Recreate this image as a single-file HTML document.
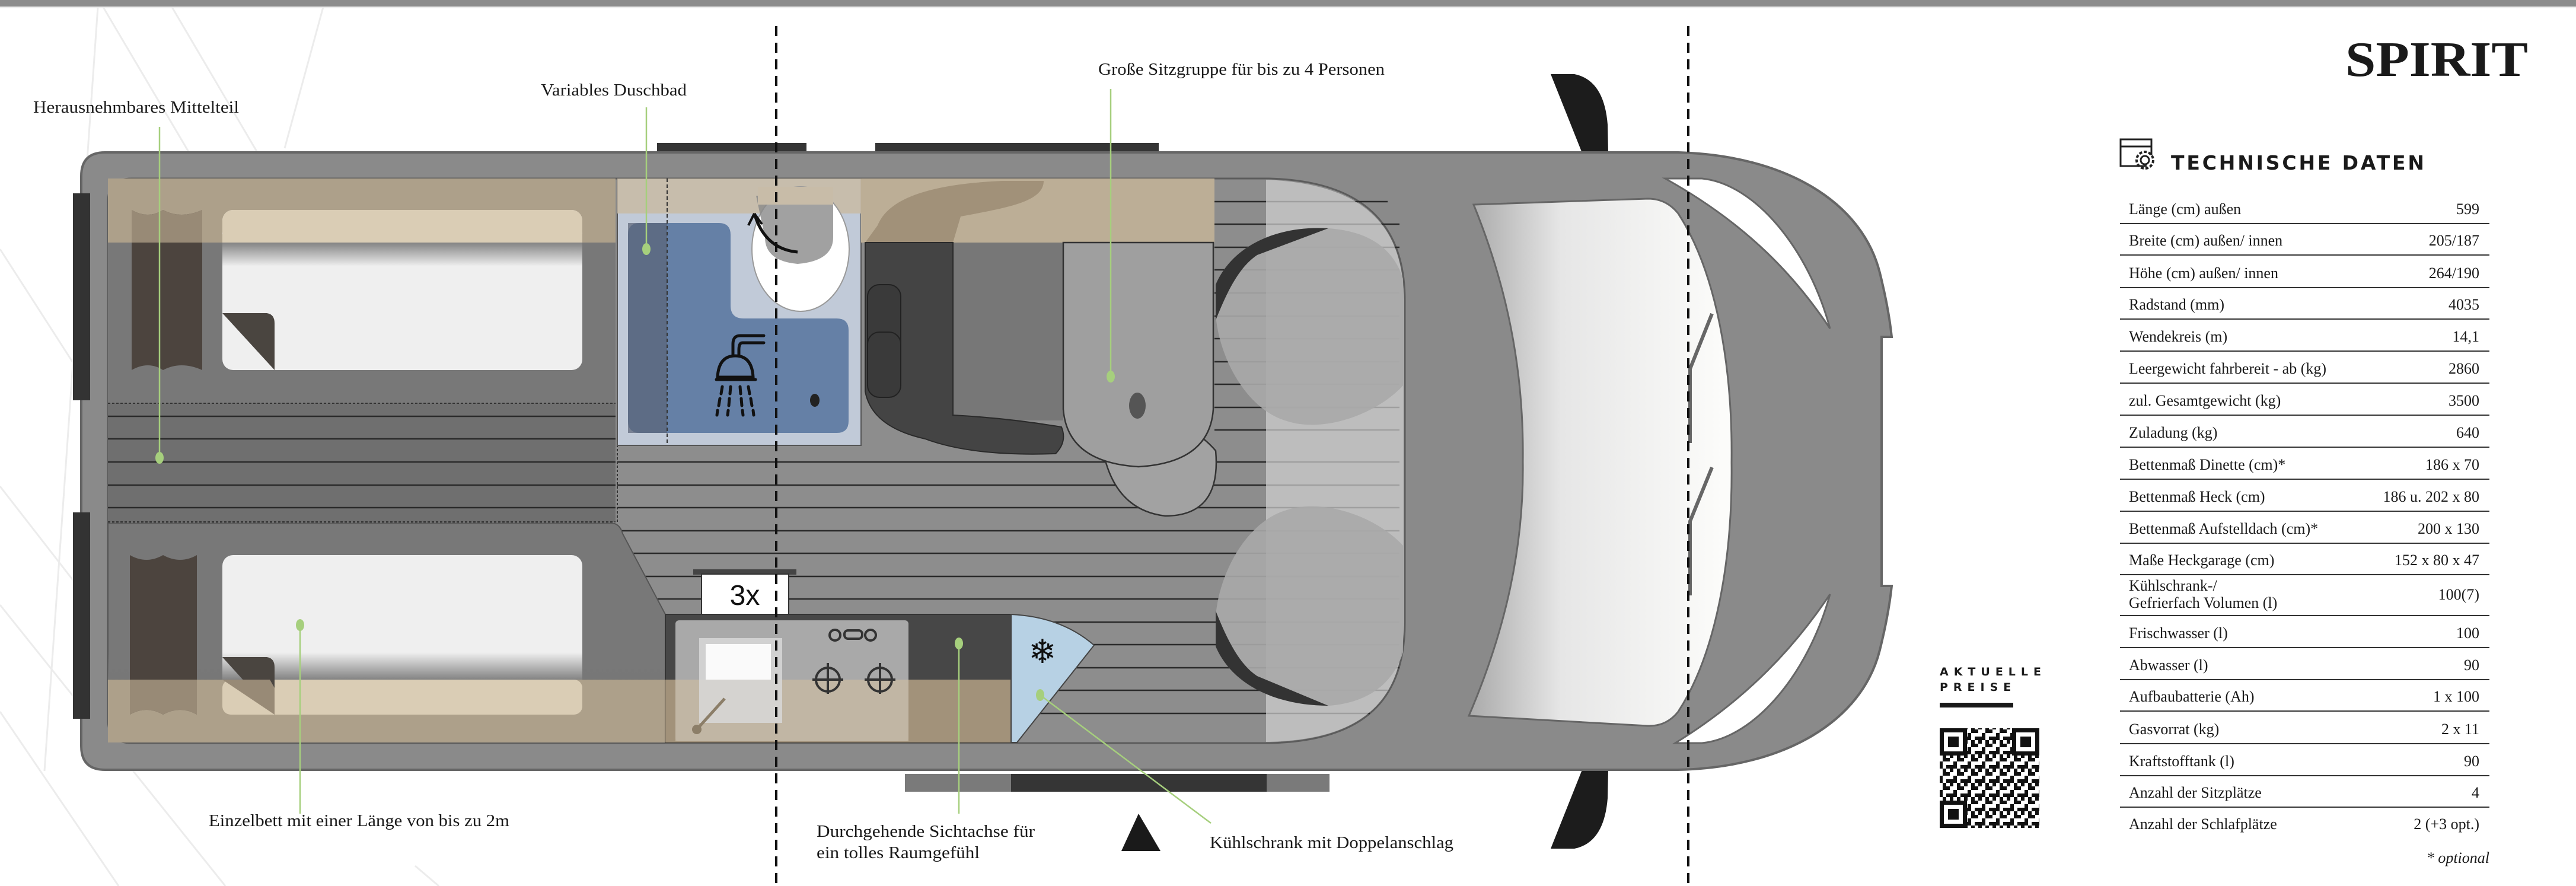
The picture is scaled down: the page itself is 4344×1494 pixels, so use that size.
<!DOCTYPE html>
<html><head><meta charset="utf-8"><style>
html,body{margin:0;padding:0;background:#fff}
svg{display:block}
.lb{font-family:"Liberation Serif",serif;font-size:28px;fill:#1a1a1a}
.tb{font-family:"Liberation Serif",serif;font-size:26px;fill:#1a1a1a}
.tv{font-family:"Liberation Serif",serif;font-size:26px;fill:#1a1a1a;text-anchor:end}
</style></head><body>
<svg width="4344" height="1494" viewBox="0 0 4344 1494" xmlns="http://www.w3.org/2000/svg">
<defs>
<linearGradient id="ws" x1="0" x2="1" y1="0" y2="0"><stop offset="0" stop-color="#a9a9a9"/><stop offset="0.35" stop-color="#e6e6e6"/><stop offset="1" stop-color="#fdfdfb"/></linearGradient>
<linearGradient id="sh" x1="0" x2="0" y1="0" y2="1"><stop offset="0" stop-color="#777" stop-opacity="0.9"/><stop offset="1" stop-color="#777" stop-opacity="0"/></linearGradient>
<linearGradient id="sh2" x1="0" x2="0" y1="1" y2="0"><stop offset="0" stop-color="#777" stop-opacity="0.9"/><stop offset="1" stop-color="#777" stop-opacity="0"/></linearGradient>
<pattern id="qr" width="24" height="24" patternUnits="userSpaceOnUse">
<rect x="0" y="0" width="6" height="6" fill="#111"/><rect x="12" y="0" width="6" height="12" fill="#111"/><rect x="6" y="12" width="6" height="6" fill="#111"/><rect x="18" y="6" width="6" height="6" fill="#111"/><rect x="0" y="18" width="12" height="6" fill="#111"/><rect x="18" y="18" width="6" height="6" fill="#111"/></pattern>
</defs>
<rect width="4344" height="1494" fill="#fff"/>
<rect x="0" y="0" width="4344" height="11" fill="#8c8c8c"/>
<rect x="0" y="11" width="4344" height="3" fill="#eee"/>

<g stroke="#ececec" stroke-width="3" fill="none">
<line x1="174" y1="12" x2="895" y2="1233"/><line x1="290" y1="12" x2="900" y2="1050"/><line x1="155" y1="270" x2="850" y2="1260"/>
<line x1="545" y1="12" x2="480" y2="250"/><line x1="165" y1="12" x2="75" y2="1300"/><line x1="0" y1="420" x2="180" y2="700"/>
<line x1="0" y1="1020" x2="380" y2="1494"/><line x1="0" y1="1200" x2="200" y2="1494"/><line x1="700" y1="1460" x2="740" y2="1494"/>
<line x1="0" y1="820" x2="140" y2="1000"/>
</g>

<rect x="1108" y="241" width="252" height="32" fill="#353535"/>
<rect x="1476" y="241" width="478" height="32" fill="#353535"/>
<rect x="1526" y="1305" width="716" height="30" fill="#7a7a7a"/>
<rect x="1705" y="1305" width="431" height="30" fill="#353535"/>

<path d="M2615 125 L2655 125 Q2705 135 2711 210 L2712 258 H2745 Q2765 265 2767 278 H2663 Q2655 270 2668 258 Z" fill="#1c1c1c"/>
<path d="M2615 1431 L2655 1431 Q2705 1421 2711 1346 L2712 1298 H2745 Q2765 1291 2767 1278 H2663 Q2655 1286 2668 1298 Z" fill="#1c1c1c"/>

<path d="M177 257 H2830 C3010 262 3140 340 3170 460 Q3185 520 3190 568 H3173 V988 H3190 Q3185 1036 3170 1096 C3140 1216 3010 1294 2830 1298 H177 Q137 1298 137 1258 V297 Q137 257 177 257 Z" fill="#8a8a8a" stroke="#666" stroke-width="4"/>
<rect x="123" y="326" width="29" height="349" fill="#333"/>
<rect x="123" y="864" width="29" height="348" fill="#333"/>

<path d="M222 301 H2140 C2300 305 2369 380 2369 506 V1050 C2369 1180 2300 1250 2140 1253 H222 Q182 1253 182 1213 V341 Q182 301 222 301 Z" fill="#8d8d8d" stroke="#5c5c5c" stroke-width="3"/>
<g stroke="#2a2a2a" stroke-width="2.5">
<line x1="1041" y1="779" x2="2360" y2="779"/><line x1="1041" y1="818" x2="2360" y2="818"/><line x1="1041" y1="856" x2="2360" y2="856"/>
<line x1="1041" y1="895" x2="2360" y2="895"/><line x1="1041" y1="933" x2="2360" y2="933"/><line x1="1041" y1="972" x2="2360" y2="972"/>
<line x1="1041" y1="1010" x2="2360" y2="1010"/><line x1="1700" y1="1049" x2="2360" y2="1049"/><line x1="1700" y1="1087" x2="2360" y2="1087"/>
<line x1="1700" y1="1126" x2="2360" y2="1126"/><line x1="1700" y1="1164" x2="2340" y2="1164"/><line x1="1700" y1="1203" x2="2310" y2="1203"/>
<line x1="2048" y1="340" x2="2340" y2="340"/><line x1="2048" y1="378" x2="2360" y2="378"/><line x1="2048" y1="417" x2="2360" y2="417"/><line x1="2048" y1="455" x2="2360" y2="455"/>
<line x1="2048" y1="494" x2="2360" y2="494"/><line x1="2048" y1="533" x2="2360" y2="533"/><line x1="2048" y1="571" x2="2360" y2="571"/><line x1="2048" y1="610" x2="2360" y2="610"/>
<line x1="2048" y1="648" x2="2360" y2="648"/><line x1="2048" y1="687" x2="2360" y2="687"/><line x1="2048" y1="725" x2="2360" y2="725"/>
</g>
<path d="M2135 303 C2300 310 2367 380 2367 506 V1050 C2367 1180 2300 1248 2135 1251 Z" fill="#d2d2d2" opacity="0.7"/>
<g>
<path d="M2050 480 C2080 410 2160 380 2240 385 C2310 390 2350 420 2366 470 L2366 650 C2320 700 2230 730 2170 710 C2100 690 2055 600 2050 530 Z" fill="#a9a9a9" opacity="0.9"/>
<path d="M2050 480 C2080 410 2160 380 2240 385 L2120 430 C2090 450 2070 490 2050 540 Z" fill="#333"/>
<path d="M2050 1090 C2080 1160 2160 1190 2240 1190 C2310 1185 2350 1150 2366 1100 L2366 920 C2320 870 2230 840 2170 860 C2100 880 2055 970 2050 1040 Z" fill="#a9a9a9" opacity="0.9"/>
<path d="M2050 1090 C2080 1160 2160 1190 2240 1190 L2120 1140 C2090 1120 2070 1080 2050 1030 Z" fill="#333"/>
</g>

<rect x="182" y="409" width="856" height="271" fill="#787878"/>
<rect x="182" y="301" width="856" height="108" fill="#ada08a"/>
<rect x="375" y="354" width="607" height="270" rx="18" fill="#efefef"/>
<rect x="375" y="354" width="607" height="55" rx="18" fill="#dacdb5"/>
<rect x="375" y="395" width="607" height="14" fill="#dacdb5"/>
<rect x="375" y="409" width="607" height="40" fill="url(#sh)"/>
<path d="M222 354 Q250 370 275 354 Q305 370 341 354 V624 Q305 608 275 624 Q250 608 222 624 Z" fill="#4c443e"/>
<path d="M222 354 Q250 370 275 354 Q305 370 341 354 V409 H222 Z" fill="#988a76"/>
<path d="M375 528 H450 Q463 530 463 545 V624 Z" fill="#4a4540"/>
<rect x="182" y="680" width="856" height="200" fill="#6f6f6f"/>
<g stroke="#2a2a2a" stroke-width="2.5"><line x1="182" y1="702" x2="1038" y2="702"/><line x1="182" y1="740" x2="1038" y2="740"/><line x1="182" y1="779" x2="1038" y2="779"/><line x1="182" y1="818" x2="1038" y2="818"/><line x1="182" y1="856" x2="1038" y2="856"/></g>
<g stroke="#333" stroke-width="2" stroke-dasharray="4 3" fill="none"><line x1="182" y1="680" x2="1038" y2="680"/><line x1="182" y1="880" x2="1038" y2="880"/><line x1="1041" y1="680" x2="1041" y2="880"/></g>
<path d="M182 882 H1030 Q1045 882 1050 900 L1122 1036 V1146 H182 Z" fill="#787878" stroke="#555" stroke-width="2"/>
<rect x="375" y="936" width="607" height="269" rx="18" fill="#efefef"/>
<rect x="182" y="1100" width="940" height="46" fill="url(#sh2)"/>
<rect x="182" y="1146" width="940" height="106" fill="#ada08a"/>
<rect x="375" y="1146" width="607" height="59" rx="14" fill="#dacdb5"/>
<path d="M219 936 Q247 952 275 936 Q304 952 332 936 V1205 Q304 1189 275 1205 Q247 1189 219 1205 Z" fill="#4c443e"/>
<path d="M219 1146 H332 V1205 Q304 1189 275 1205 Q247 1189 219 1205 Z" fill="#988a76"/>
<path d="M375 1108 H450 Q463 1110 463 1125 V1205 Z" fill="#4a4540"/>
<path d="M375 1146 H455 L463 1160 V1205 Z" fill="#988a76"/>

<rect x="1041" y="301" width="411" height="450" fill="#c1cad8" stroke="#555" stroke-width="2"/>
<path d="M1079 376 H1212 Q1232 376 1232 396 V515 Q1232 537 1254 537 H1411 Q1431 537 1431 557 V710 Q1431 730 1411 730 H1079 Q1059 730 1059 710 V396 Q1059 376 1079 376 Z" fill="#6580a6"/>
<rect x="1059" y="376" width="66" height="354" fill="#5a6478" opacity="0.7"/>
<rect x="1041" y="301" width="411" height="59" fill="#c8bca8" opacity="0.92"/>
<line x1="1125" y1="301" x2="1125" y2="751" stroke="#333" stroke-width="2" stroke-dasharray="6 4"/>
<ellipse cx="1350" cy="420" rx="82" ry="105" fill="#fff" stroke="#999" stroke-width="2"/>
<path d="M1275 330 H1405 V400 Q1405 440 1345 445 Q1290 440 1290 400 Z" fill="#8a8a8a" opacity="0.8"/>
<path d="M1278 315 H1405 V345 H1278 Z" fill="#c8bca8"/>
<path d="M1272 360 Q1290 420 1345 425" fill="none" stroke="#111" stroke-width="5"/>
<path d="M1272 360 L1262 380 M1272 360 L1285 378" stroke="#111" stroke-width="4"/>
<g stroke="#111" stroke-width="5" fill="none" stroke-linecap="round">
<path d="M1288 566 H1248 Q1236 566 1236 580 V600"/><path d="M1288 578 H1252 Q1246 578 1246 590 V600"/>
<path d="M1210 636 Q1212 600 1240 600 Q1268 600 1270 636 Z"/>
<path d="M1208 640 H1274"/>
<path d="M1218 652 L1216 664 M1232 652 L1231 664 M1248 652 L1249 664 M1262 652 L1264 664 M1214 672 L1212 684 M1230 672 L1229 684 M1250 672 L1251 684 M1266 672 L1268 684 M1210 692 L1209 700 M1228 692 L1227 700 M1252 692 L1253 700 M1270 692 L1271 700"/>
</g>
<ellipse cx="1374" cy="675" rx="8" ry="11" fill="#222"/>

<rect x="1452" y="301" width="596" height="108" fill="#bcae96"/>
<path d="M1480 380 C1500 330 1580 310 1690 305 L1760 305 C1760 340 1700 350 1620 365 L1607 409 H1459 Z" fill="#9a8a72" opacity="0.8"/>
<rect x="1607" y="409" width="186" height="300" fill="#777"/>
<path d="M1459 409 H1607 V700 Q1700 705 1790 720 Q1800 745 1780 765 Q1640 770 1560 740 Q1470 720 1459 660 Z" fill="#444" stroke="#2a2a2a" stroke-width="2"/>
<rect x="1463" y="480" width="56" height="150" rx="20" fill="#3a3a3a" stroke="#222" stroke-width="2"/>
<rect x="1463" y="560" width="56" height="110" rx="20" fill="#3a3a3a" stroke="#222" stroke-width="2"/>
<path d="M1860 700 Q1990 690 2050 760 Q2060 870 1965 870 Q1880 860 1860 760 Z" fill="#a2a2a2" stroke="#333" stroke-width="2.5"/>
<path d="M1793 409 H2046 V690 Q2040 780 1920 787 Q1800 780 1793 690 Z" fill="#9f9f9f" stroke="#333" stroke-width="2.5"/>
<ellipse cx="1918" cy="684" rx="14" ry="22" fill="#555"/>

<rect x="1122" y="1036" width="583" height="216" fill="#474747" stroke="#333" stroke-width="2"/>
<rect x="1122" y="1146" width="583" height="106" fill="#a2927a"/>
<rect x="1139" y="1046" width="393" height="204" rx="6" fill="#a9a9a9"/>
<rect x="1139" y="1146" width="393" height="104" fill="#c6b9a3" opacity="0.85"/>
<rect x="1179" y="1076" width="140" height="143" fill="#d8d8d8" opacity="0.85"/>
<rect x="1190" y="1086" width="110" height="60" fill="#fafafa"/>
<line x1="1175" y1="1230" x2="1222" y2="1178" stroke="#8c7e68" stroke-width="5"/>
<circle cx="1175" cy="1230" r="8" fill="#8c7e68"/>
<g stroke="#333" stroke-width="4" fill="none">
<circle cx="1396" cy="1146" r="20"/><circle cx="1484" cy="1146" r="20"/>
<path d="M1396 1118 V1170 M1370 1146 H1422 M1484 1118 V1170 M1458 1146 H1510"/>
<circle cx="1408" cy="1071" r="9"/><circle cx="1468" cy="1071" r="9"/><rect x="1424" y="1063" width="30" height="14" rx="6"/>
</g>
<path d="M1705 1036 Q1790 1040 1845 1088 L1715 1252 H1705 Z" fill="#b7d1e4" stroke="#444" stroke-width="2"/>
<text x="1758" y="1118" font-size="56" font-family="DejaVu Sans, sans-serif" fill="#111" text-anchor="middle">❄</text>
<rect x="1169" y="960" width="174" height="9" fill="#444"/>
<rect x="1183" y="968" width="147" height="68" fill="#fff" stroke="#333" stroke-width="2"/>
<text x="1256" y="1020" font-family="Liberation Sans, sans-serif" font-size="48" fill="#111" text-anchor="middle">3x</text>

<path d="M2485 345 L2779 335 Q2810 335 2830 360 C2895 460 2922 620 2920 780 C2922 940 2895 1100 2830 1200 Q2810 1225 2779 1224 L2477 1207 C2540 1060 2570 920 2568 778 C2570 620 2540 480 2485 345 Z" fill="url(#ws)" stroke="#666" stroke-width="3"/>
<path d="M2808 301 L2870 301 C2960 310 3050 420 3086 554 C3030 470 2950 380 2808 301 Z" fill="#fff" stroke="#666" stroke-width="3"/>
<path d="M2825 1253 L2870 1253 C2960 1244 3050 1134 3086 1002 C3030 1086 2950 1176 2825 1253 Z" fill="#fff" stroke="#666" stroke-width="3"/>
<g stroke="#666" stroke-width="6" fill="none"><polyline points="2887,529 2850,622 2850,747"/><polyline points="2887,788 2850,879 2850,1004"/></g>

<g stroke="#111" stroke-width="4" stroke-dasharray="17 11"><line x1="1309" y1="44" x2="1309" y2="1494"/><line x1="2847" y1="44" x2="2847" y2="1494"/></g>

<g stroke="#a6cf7d" stroke-width="2.5" fill="none">
<line x1="269" y1="214" x2="269" y2="772"/><line x1="1090" y1="181" x2="1090" y2="420"/><line x1="1873" y1="150" x2="1873" y2="635"/>
<line x1="506" y1="1054" x2="506" y2="1372"/><line x1="1617" y1="1085" x2="1617" y2="1372"/><line x1="1754" y1="1172" x2="2042" y2="1388"/>
</g>
<g fill="#a6cf7d"><ellipse cx="269" cy="772" rx="7" ry="10"/><ellipse cx="1090" cy="420" rx="7" ry="10"/><ellipse cx="1873" cy="635" rx="7" ry="10"/><ellipse cx="506" cy="1054" rx="7" ry="10"/><ellipse cx="1617" cy="1085" rx="7" ry="10"/><ellipse cx="1754" cy="1172" rx="7" ry="10"/></g>

<text class="lb" x="56" y="190" textLength="347" lengthAdjust="spacingAndGlyphs">Herausnehmbares Mittelteil</text>
<text class="lb" x="912" y="161" textLength="246" lengthAdjust="spacingAndGlyphs">Variables Duschbad</text>
<text class="lb" x="1852" y="126" textLength="483" lengthAdjust="spacingAndGlyphs">Große Sitzgruppe für bis zu 4 Personen</text>
<text class="lb" x="352" y="1393" textLength="507" lengthAdjust="spacingAndGlyphs">Einzelbett mit einer Länge von bis zu 2m</text>
<text class="lb" x="1377" y="1411" textLength="368" lengthAdjust="spacingAndGlyphs">Durchgehende Sichtachse für</text>
<text class="lb" x="1377" y="1447" textLength="275" lengthAdjust="spacingAndGlyphs">ein tolles Raumgefühl</text>
<text class="lb" x="2040" y="1430" textLength="411" lengthAdjust="spacingAndGlyphs">Kühlschrank mit Doppelanschlag</text>
<polygon points="1920,1372 1891,1435 1957,1435" fill="#1a1a1a"/>

<text x="3955" y="128" font-family="Liberation Serif, serif" font-weight="bold" font-size="84" fill="#1a1a1a" textLength="308" lengthAdjust="spacingAndGlyphs">SPIRIT</text>
<g stroke="#222" stroke-width="3" fill="none">
<path d="M3620 280 H3576 V235 H3628 V262"/><line x1="3576" y1="247" x2="3628" y2="247"/>
<circle cx="3617" cy="270" r="7"/><circle cx="3617" cy="270" r="14" stroke-dasharray="5 3" stroke-width="4"/>
</g>
<text x="3661" y="286" font-family="DejaVu Sans, sans-serif" font-weight="bold" font-size="33" letter-spacing="7" fill="#1a1a1a" textLength="434" lengthAdjust="spacing">TECHNISCHE DATEN</text>

<g stroke="#333" stroke-width="2">
<line x1="3575" y1="377" x2="4198" y2="377"/><line x1="3575" y1="430" x2="4198" y2="430"/><line x1="3575" y1="485" x2="4198" y2="485"/><line x1="3575" y1="538" x2="4198" y2="538"/>
<line x1="3575" y1="592" x2="4198" y2="592"/><line x1="3575" y1="646" x2="4198" y2="646"/><line x1="3575" y1="700" x2="4198" y2="700"/><line x1="3575" y1="754" x2="4198" y2="754"/>
<line x1="3575" y1="808" x2="4198" y2="808"/><line x1="3575" y1="862" x2="4198" y2="862"/><line x1="3575" y1="916" x2="4198" y2="916"/><line x1="3575" y1="969" x2="4198" y2="969"/>
<line x1="3575" y1="1038" x2="4198" y2="1038"/><line x1="3575" y1="1092" x2="4198" y2="1092"/><line x1="3575" y1="1146" x2="4198" y2="1146"/><line x1="3575" y1="1199" x2="4198" y2="1199"/>
<line x1="3575" y1="1254" x2="4198" y2="1254"/><line x1="3575" y1="1308" x2="4198" y2="1308"/><line x1="3575" y1="1361" x2="4198" y2="1361"/>
</g>
<text class="tb" x="3590" y="361">Länge (cm) außen</text><text class="tv" x="4181" y="361">599</text>
<text class="tb" x="3590" y="414">Breite (cm) außen/ innen</text><text class="tv" x="4181" y="414">205/187</text>
<text class="tb" x="3590" y="469">Höhe (cm) außen/ innen</text><text class="tv" x="4181" y="469">264/190</text>
<text class="tb" x="3590" y="522">Radstand (mm)</text><text class="tv" x="4181" y="522">4035</text>
<text class="tb" x="3590" y="576">Wendekreis (m)</text><text class="tv" x="4181" y="576">14,1</text>
<text class="tb" x="3590" y="630">Leergewicht fahrbereit - ab (kg)</text><text class="tv" x="4181" y="630">2860</text>
<text class="tb" x="3590" y="684">zul. Gesamtgewicht (kg)</text><text class="tv" x="4181" y="684">3500</text>
<text class="tb" x="3590" y="738">Zuladung (kg)</text><text class="tv" x="4181" y="738">640</text>
<text class="tb" x="3590" y="792">Bettenmaß Dinette (cm)*</text><text class="tv" x="4181" y="792">186 x 70</text>
<text class="tb" x="3590" y="846">Bettenmaß Heck (cm)</text><text class="tv" x="4181" y="846">186 u. 202 x 80</text>
<text class="tb" x="3590" y="900">Bettenmaß Aufstelldach (cm)*</text><text class="tv" x="4181" y="900">200 x 130</text>
<text class="tb" x="3590" y="953">Maße Heckgarage (cm)</text><text class="tv" x="4181" y="953">152 x 80 x 47</text>
<text class="tb" x="3590" y="996">Kühlschrank-/</text><text class="tb" x="3590" y="1025">Gefrierfach Volumen (l)</text><text class="tv" x="4181" y="1011">100(7)</text>
<text class="tb" x="3590" y="1076">Frischwasser (l)</text><text class="tv" x="4181" y="1076">100</text>
<text class="tb" x="3590" y="1130">Abwasser (l)</text><text class="tv" x="4181" y="1130">90</text>
<text class="tb" x="3590" y="1183">Aufbaubatterie (Ah)</text><text class="tv" x="4181" y="1183">1 x 100</text>
<text class="tb" x="3590" y="1238">Gasvorrat (kg)</text><text class="tv" x="4181" y="1238">2 x 11</text>
<text class="tb" x="3590" y="1292">Kraftstofftank (l)</text><text class="tv" x="4181" y="1292">90</text>
<text class="tb" x="3590" y="1345">Anzahl der Sitzplätze</text><text class="tv" x="4181" y="1345">4</text>
<text class="tb" x="3590" y="1398">Anzahl der Schlafplätze</text><text class="tv" x="4181" y="1398">2 (+3 opt.)</text>
<text class="tv" x="4198" y="1455" font-style="italic">* optional</text>

<text x="3271" y="1139" font-family="DejaVu Sans, sans-serif" font-weight="bold" font-size="19" letter-spacing="9" fill="#1a1a1a">AKTUELLE</text>
<text x="3271" y="1165" font-family="DejaVu Sans, sans-serif" font-weight="bold" font-size="19" letter-spacing="9" fill="#1a1a1a">PREISE</text>
<rect x="3271" y="1185" width="124" height="8" fill="#1a1a1a"/>
<rect x="3271" y="1228" width="168" height="168" fill="url(#qr)"/>
<g fill="#fff"><rect x="3271" y="1228" width="46" height="46"/><rect x="3393" y="1228" width="46" height="46"/><rect x="3271" y="1350" width="46" height="46"/></g>
<g fill="none" stroke="#111" stroke-width="7"><rect x="3274.5" y="1231.5" width="39" height="39"/><rect x="3396.5" y="1231.5" width="39" height="39"/><rect x="3274.5" y="1353.5" width="39" height="39"/></g>
<g fill="#111"><rect x="3285" y="1242" width="18" height="18"/><rect x="3407" y="1242" width="18" height="18"/><rect x="3285" y="1364" width="18" height="18"/></g>
</svg>
</body></html>
